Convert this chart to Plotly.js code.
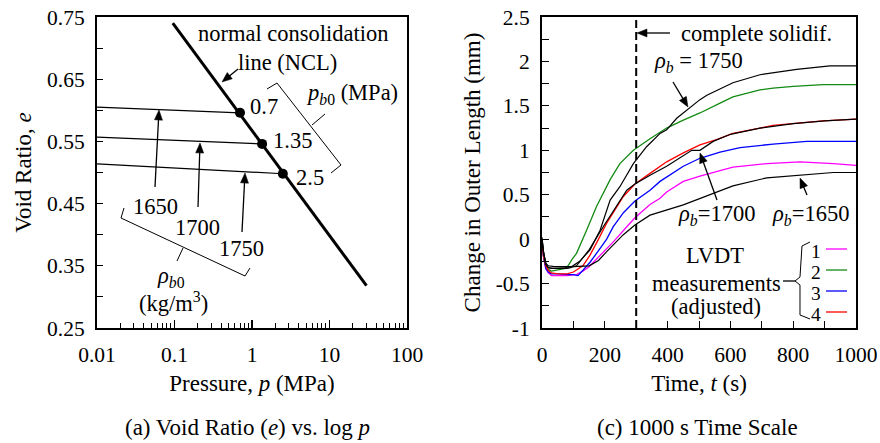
<!DOCTYPE html>
<html>
<head>
<meta charset="utf-8">
<script src="https://cdn.plot.ly/plotly-3.0.1.min.js"></script>
<style>html,body{margin:0;padding:0;background:#fff;}#chart{width:880px;height:443px;}</style>
</head>
<body>
<div id="chart"></div>
<script>
// ---------- (a) Void ratio vs log p ----------
const nclP = [0.095, 30];
const nclE = [0.74, 0.318];
const pb0 = [0.7, 1.35, 2.5];
const ePb0 = [0.596, 0.546, 0.498];
const pStart = 0.01;
const eStart = [0.605, 0.557, 0.514];
const rhoB0 = ['1650', '1700', '1750'];
const pTickVals = [0.01, 0.1, 1, 10, 100];
const pTickText = ['0.01', '0.1', '1', '10', '100'];
const eTickVals = [0.25, 0.35, 0.45, 0.55, 0.65, 0.75];
const eTickText = ['0.25', '0.35', '0.45', '0.55', '0.65', '0.75'];

// ---------- (c) 1000 s time scale ----------
const t1 = [0, 5, 12, 20, 30, 50, 80, 110, 130, 150, 175, 200, 230, 270, 296, 344, 376, 397, 450, 503, 567, 608, 716, 822, 928, 1000];
const v1 = [-0.05, -0.2, -0.33, -0.38, -0.41, -0.41, -0.41, -0.40, -0.36, -0.31, -0.22, -0.13, -0.02, 0.14, 0.24, 0.39, 0.46, 0.53, 0.65, 0.71, 0.77, 0.81, 0.85, 0.87, 0.85, 0.83];
const t2 = [0, 5, 12, 20, 30, 50, 75, 85, 95, 110, 131, 142, 174, 217, 248, 291, 344, 397, 450, 503, 567, 608, 694, 736, 800, 895, 1000];
const v2 = [-0.03, -0.18, -0.30, -0.34, -0.36, -0.35, -0.33, -0.29, -0.23, -0.16, 0.0, 0.10, 0.37, 0.67, 0.85, 1.0, 1.13, 1.25, 1.34, 1.42, 1.53, 1.60, 1.68, 1.70, 1.72, 1.74, 1.74];
const t3 = [0, 5, 12, 20, 30, 50, 83, 100, 115, 130, 153, 180, 206, 227, 260, 296, 344, 376, 397, 450, 503, 567, 631, 736, 843, 1000];
const v3 = [-0.05, -0.2, -0.33, -0.37, -0.39, -0.39, -0.40, -0.40, -0.41, -0.35, -0.26, -0.13, 0.0, 0.14, 0.30, 0.43, 0.55, 0.65, 0.70, 0.82, 0.91, 0.98, 1.03, 1.07, 1.10, 1.10];
const t4 = [0, 5, 12, 20, 30, 50, 80, 100, 130, 153, 180, 206, 259, 296, 344, 397, 450, 503, 556, 608, 694, 736, 895, 1000];
const v4 = [-0.03, -0.2, -0.30, -0.35, -0.38, -0.39, -0.39, -0.37, -0.30, -0.18, 0.0, 0.18, 0.48, 0.62, 0.74, 0.87, 0.97, 1.06, 1.12, 1.19, 1.25, 1.28, 1.33, 1.35];
const t1750 = [0, 5, 12, 20, 30, 50, 90, 120, 153, 185, 217, 248, 291, 333, 376, 397, 429, 466, 503, 525, 608, 694, 811, 917, 1000];
const v1750 = [0.02, -0.15, -0.28, -0.32, -0.33, -0.33, -0.32, -0.25, -0.12, 0.10, 0.44, 0.59, 0.85, 1.04, 1.19, 1.23, 1.36, 1.47, 1.57, 1.62, 1.76, 1.85, 1.91, 1.95, 1.95];
const t1700 = [0, 5, 12, 20, 40, 80, 110, 150, 195, 248, 270, 296, 344, 397, 477, 503, 545, 600, 694, 800, 900, 1000];
const v1700 = [0.0, -0.15, -0.28, -0.32, -0.33, -0.33, -0.30, -0.12, 0.14, 0.44, 0.55, 0.62, 0.72, 0.82, 1.0, 1.0, 1.10, 1.18, 1.25, 1.30, 1.33, 1.35];
const t1650 = [0, 5, 12, 20, 40, 100, 150, 180, 206, 259, 296, 344, 450, 503, 535, 608, 716, 822, 928, 1000];
const v1650 = [0.0, -0.15, -0.27, -0.30, -0.31, -0.31, -0.30, -0.24, -0.14, 0.05, 0.16, 0.27, 0.385, 0.46, 0.50, 0.60, 0.69, 0.72, 0.75, 0.75];
const lvdtNames = ['1', '2', '3', '4'];
const lvdtColors = ['#ff00ff', '#138a13', '#0000ff', '#ff0000'];
const solidifTime = 300;
const vTickVals = [-1, -0.5, 0, 0.5, 1, 1.5, 2, 2.5];
const vTickText = ['-1', '-0.5', '0', '0.5', '1', '1.5', '2', '2.5'];

const FONT = '"Liberation Serif", "Times New Roman", serif';
const W = 880, H = 443;
const px = (x) => x / W;
const py = (y) => 1 - y / H;

const traces = [];
// (a)
traces.push({x: nclP, y: nclE, xaxis: 'x', yaxis: 'y', mode: 'lines', line: {color: 'black', width: 3}, hoverinfo: 'skip'});
for (let i = 0; i < pb0.length; i++) {
  traces.push({x: [pStart, pb0[i]], y: [eStart[i], ePb0[i]], xaxis: 'x', yaxis: 'y', mode: 'lines', line: {color: 'black', width: 1.2}, name: rhoB0[i]});
}
traces.push({x: pb0, y: ePb0, xaxis: 'x', yaxis: 'y', mode: 'markers', marker: {color: 'black', size: 10}});
// (c)
const series = [[t1, v1], [t2, v2], [t3, v3], [t4, v4]];
series.forEach((s, i) => traces.push({x: s[0], y: s[1], xaxis: 'x2', yaxis: 'y2', mode: 'lines', line: {color: lvdtColors[i], width: 1.3}, name: lvdtNames[i]}));
[[t1750, v1750], [t1700, v1700], [t1650, v1650]].forEach(s => traces.push({x: s[0], y: s[1], xaxis: 'x2', yaxis: 'y2', mode: 'lines', line: {color: 'black', width: 1.2}}));

const axBase = {showline: true, linewidth: 2, linecolor: 'black', mirror: true, showgrid: false, zeroline: false,
  ticks: 'inside', tickcolor: 'black', tickwidth: 1.2, ticklabelstandoff: 6,
  tickfont: {family: FONT, size: 21.5, color: 'black'}};
const titleFont = {family: FONT, size: 23, color: 'black'};
const ANN = 22.5;

const ann = [];
function txt(t, x, y, opts) { ann.push(Object.assign({text: t, x: px(x), y: py(y), xref: 'paper', yref: 'paper', showarrow: false, xanchor: 'center', yanchor: 'middle', font: {family: FONT, size: ANN, color: 'black'}}, opts || {})); }

function path(pts, close) { return pts.map((p, i) => (i ? 'L' : 'M') + px(p[0]).toFixed(5) + ',' + py(p[1]).toFixed(5)).join(' ') + (close ? ' Z' : ''); }
const shapes = [];
// arrows drawn as shaft + filled head (pixel geometry converted to paper)
function arrow(hx, hy, tx, ty) {
  const dx = hx - tx, dy = hy - ty, L = Math.hypot(dx, dy), ux = dx / L, uy = dy / L;
  const hl = 10, hw = 4;
  const bx = hx - ux * hl, by = hy - uy * hl;
  shapes.push({type: 'path', xref: 'paper', yref: 'paper', path: path([[tx, ty], [bx + ux * 2, by + uy * 2]]), line: {color: 'black', width: 1.3}});
  shapes.push({type: 'path', xref: 'paper', yref: 'paper', path: path([[hx, hy], [bx - uy * hw, by + ux * hw], [bx + uy * hw, by - ux * hw]], true), fillcolor: 'black', line: {color: 'black', width: 0.5}});
}

// (a) annotations
txt('normal consolidation', 293, 33);
txt('line (NCL)', 287, 62);
arrow(222, 82, 238, 69);
txt('0.7', 248, 107, {xanchor: 'left'});
txt('1.35', 271, 141, {xanchor: 'left'});
txt('2.5', 294, 177, {xanchor: 'left'});
txt('<i>p</i><sub><i>b</i>0</sub> (MPa)', 352, 94);
txt(rhoB0[0], 155, 207); arrow(159, 110, 155, 187);
txt(rhoB0[1], 197, 227); arrow(200, 143, 198, 207);
txt(rhoB0[2], 241, 248); arrow(245, 173, 242, 232);
txt('<i>ρ</i><sub><i>b</i>0</sub>', 171, 277);
txt('(kg/m<sup>3</sup>)', 173, 302);
txt('(a) Void Ratio (<i>e</i>) vs. log <i>p</i>', 248, 427, {font: titleFont});

// (c) annotations
txt('complete solidif.', 756, 33);
arrow(637, 33, 670, 33);
txt('<i>ρ<sub>b</sub></i> = 1750', 698, 62);
arrow(688, 107, 673, 82);
txt('<i>ρ<sub>b</sub></i>=1700', 716, 215);
arrow(700, 153, 717, 200);
txt('<i>ρ<sub>b</sub></i>=1650', 810, 215);
arrow(800, 178, 807, 195);
txt('LVDT', 715, 255);
txt('measurements', 716, 283);
txt('(adjusted)', 716, 306);
const legY = [250, 271, 292, 313];
lvdtNames.forEach((n, i) => txt(n, 816, legY[i] + 1, {height: 20, font: {family: FONT, size: 19.5, color: 'black'}}));
txt('(c) 1000 s Time Scale', 697, 427, {font: titleFont});

const sline = {color: 'black', width: 1};
shapes.push({type: 'path', xref: 'paper', yref: 'paper', path: path([[267, 89], [277, 83], [341, 165], [331, 173]]), line: sline});
shapes.push({type: 'path', xref: 'paper', yref: 'paper', path: path([[312, 125], [325, 114]]), line: sline});
shapes.push({type: 'path', xref: 'paper', yref: 'paper', path: path([[124, 208], [121, 218], [245, 276], [250, 268]]), line: sline});
shapes.push({type: 'path', xref: 'paper', yref: 'paper', path: path([[183, 248], [177, 261]]), line: sline});
// legend brace in (c)
shapes.push({type: 'path', xref: 'paper', yref: 'paper', path: path([[810, 242], [802, 246], [800, 277], [795, 281], [800, 285], [800, 315], [810, 319]]), line: sline});
shapes.push({type: 'path', xref: 'paper', yref: 'paper', path: path([[783, 281], [795, 281]]), line: {color: 'black', width: 1.3}});
lvdtColors.forEach((c, i) => shapes.push({type: 'line', xref: 'paper', yref: 'paper', x0: px(826), x1: px(847), y0: py(legY[i] - 1), y1: py(legY[i] - 1), line: {color: c, width: 1.3}}));
// complete solidification line
shapes.push({type: 'line', xref: 'x2', yref: 'y2 domain', x0: solidifTime, x1: solidifTime, y0: 0, y1: 1, line: {color: 'black', width: 2, dash: '8px,4px'}});

const layout = {
  width: W, height: H, margin: {l: 0, r: 0, t: 0, b: 0}, showlegend: false,
  paper_bgcolor: 'white', plot_bgcolor: 'white',
  font: {family: FONT, size: 20, color: 'black'},
  xaxis: Object.assign({}, axBase, {domain: [px(97), px(407)], anchor: 'y', type: 'log', range: [-2, 2],
    tickvals: pTickVals, ticktext: pTickText, ticklen: 8,
    minor: {ticks: 'inside', ticklen: 5, tickcolor: 'black', tickwidth: 1, dtick: 'D1', showgrid: false},
    title: {text: 'Pressure, <i>p</i> (MPa)', font: titleFont, standoff: 9}}),
  yaxis: Object.assign({}, axBase, {domain: [py(328), py(17)], anchor: 'x', range: [0.25, 0.75],
    tickvals: eTickVals, ticktext: eTickText, ticklen: 6,
    minor: {ticks: 'inside', ticklen: 6, tickcolor: 'black', tickwidth: 1, dtick: 0.05, tick0: 0.25, showgrid: false},
    title: {text: 'Void Ratio, <i>e</i>', font: titleFont, standoff: 9}}),
  xaxis2: Object.assign({}, axBase, {domain: [px(542), px(856)], anchor: 'y2', range: [0, 1000],
    tickmode: 'linear', tick0: 0, dtick: 200, ticklen: 7,
    minor: {ticks: 'inside', ticklen: 7, tickcolor: 'black', tickwidth: 1, dtick: 100, showgrid: false},
    title: {text: 'Time, <i>t</i> (s)', font: titleFont, standoff: 9}}),
  yaxis2: Object.assign({}, axBase, {domain: [py(328), py(17)], anchor: 'x2', range: [-1, 2.5],
    tickvals: vTickVals, ticktext: vTickText, ticklen: 7,
    minor: {ticks: 'inside', ticklen: 7, tickcolor: 'black', tickwidth: 1, dtick: 0.25, tick0: 0, showgrid: false},
    title: {text: 'Change in Outer Length (mm)', font: titleFont, standoff: 9}}),
  annotations: ann,
  shapes: shapes
};

Plotly.newPlot('chart', traces, layout, {staticPlot: true, displayModeBar: false});
</script>
</body>
</html>
